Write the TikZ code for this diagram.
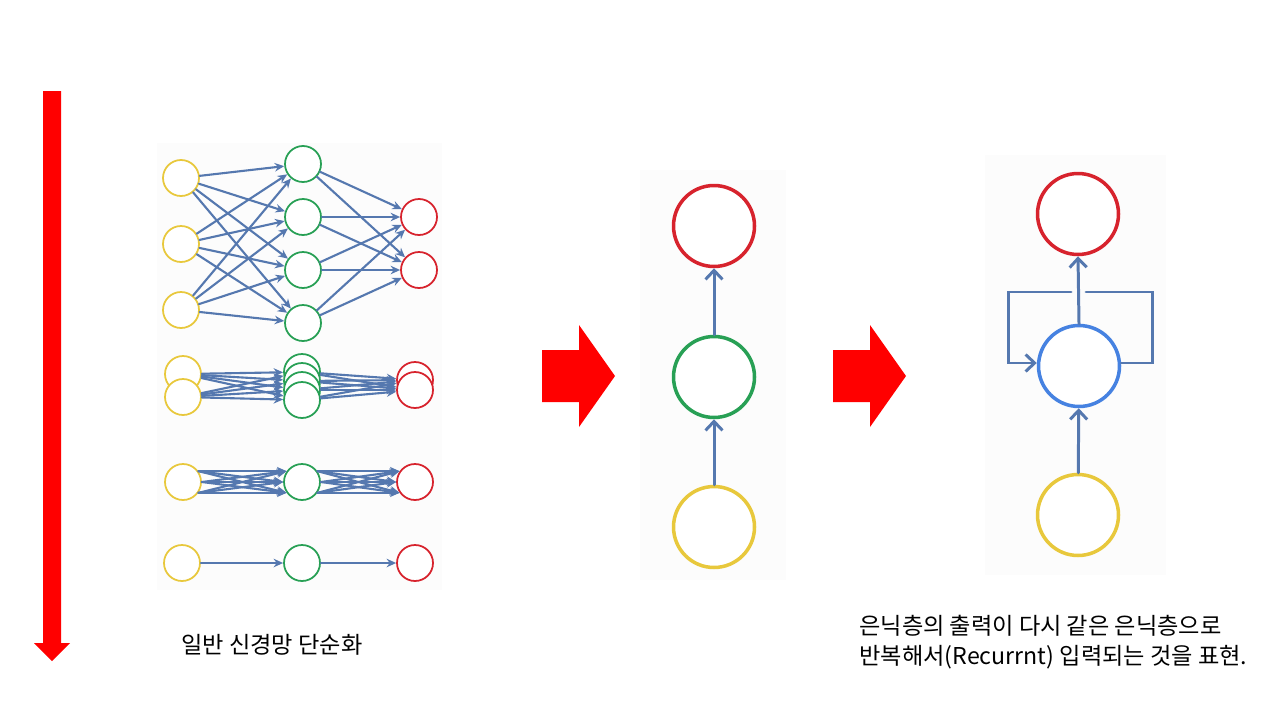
\documentclass[tikz,border=0pt]{standalone}
\usepackage{fontspec}
\setmainfont{Noto Sans CJK KR}
\usepackage{tikz}
\usetikzlibrary{arrows.meta}

\definecolor{nnyellow}{RGB}{232,200,60}
\definecolor{nngreen}{RGB}{40,160,85}
\definecolor{nnred}{RGB}{215,35,45}
\definecolor{nnblue}{RGB}{70,130,225}
\definecolor{edgeblue}{RGB}{85,120,175}

\tikzset{
  unit/.style={circle, draw, fill=white, line width=1pt, minimum size=0.72cm, inner sep=0pt},
  inunit/.style={unit, draw=nnyellow},
  hidunit/.style={unit, draw=nngreen},
  outunit/.style={unit, draw=nnred},
  bigunit/.style={circle, draw, fill=white, line width=2pt, minimum size=1.62cm, inner sep=0pt},
  edge/.style={draw=edgeblue, line width=1.2pt, -{Stealth[length=1.9mm,width=1.7mm]}},
  bigedge/.style={draw=edgeblue, line width=1.7pt, -{Straight Barb[length=1.8mm,width=3.4mm]}},
  loopedge/.style={draw=edgeblue, line width=1.7pt, line join=miter},
  caption/.style={inner sep=0pt, font=\fontsize{13.2}{17}\selectfont}
}

\begin{document}
\begin{tikzpicture}[x=0.02cm, y=-0.02cm, line cap=round, line join=round]
  \useasboundingbox (0,0) rectangle (1280,720);

  % faint screenshot backgrounds
  \fill[black!1] (157,143) rectangle (442,590);
  \fill[black!1] (640,170) rectangle (786,580);
  \fill[black!1] (985,155) rectangle (1166,575);

  % long red arrow on the left
  \fill[red] (43,91) -- (61,91) -- (61,643) -- (70,643) -- (52,661) -- (34,643) -- (43,643) -- cycle;

  % full network
  \foreach \i/\y in {1/178,2/244,3/310} \node[inunit] (a\i) at (181,\y) {};
  \foreach \j/\y in {1/164,2/217,3/270,4/323} \node[hidunit] (b\j) at (303,\y) {};
  \foreach \k/\y in {1/217,2/270} \node[outunit] (c\k) at (419,\y) {};
  \foreach \i in {1,2,3} \foreach \j in {1,...,4} \draw[edge] (a\i) -- (b\j);
  \foreach \j in {1,...,4} \foreach \k in {1,2} \draw[edge] (b\j) -- (c\k);

  % squeezed network
  \foreach \i/\y in {1/374,2/397} \node[inunit] (d\i) at (183,\y) {};
  \foreach \j/\y in {1/372,2/381,3/390,4/400} \node[hidunit] (e\j) at (302,\y) {};
  \foreach \k/\y in {1/380,2/390} \node[outunit] (f\k) at (415,\y) {};
  \foreach \i in {1,2} \foreach \j in {1,...,4} \draw[edge] (d\i) -- (e\j);
  \foreach \j in {1,...,4} \foreach \k in {1,2} \draw[edge] (e\j) -- (f\k);

  % one unit per layer, many links
  \node[inunit] (g1) at (183,482) {};
  \node[hidunit] (g2) at (302,482) {};
  \node[outunit] (g3) at (415,482) {};
  \foreach \s in {35,0,-35} \foreach \t in {145,180,215} {
    \draw[edge] (g1.\s) -- (g2.\t);
    \draw[edge] (g2.\s) -- (g3.\t);
  }

  % simplest chain
  \node[inunit] (h1) at (182,563) {};
  \node[hidunit] (h2) at (302,563) {};
  \node[outunit] (h3) at (415,563) {};
  \draw[edge] (h1) -- (h2);
  \draw[edge] (h2) -- (h3);

  % block arrows
  \foreach \dx in {0,291}
    \fill[red] (542+\dx,350) -- (579+\dx,350) -- (579+\dx,325) -- (615+\dx,376)
      -- (579+\dx,427) -- (579+\dx,402) -- (542+\dx,402) -- cycle;

  % feed-forward column
  \node[bigunit, draw=nnred] (ffout) at (714,226) {};
  \node[bigunit, draw=nngreen] (ffhid) at (714,377) {};
  \node[bigunit, draw=nnyellow] (ffin) at (714,527) {};
  \draw[bigedge] (ffin) -- (ffhid);
  \draw[bigedge] (ffhid) -- (ffout);

  % recurrent column
  \node[bigunit, draw=nnred] (rnnout) at (1078,214) {};
  \node[bigunit, draw=nnblue] (rnnhid) at (1079,366) {};
  \node[bigunit, draw=nnyellow] (rnnin) at (1078,515) {};
  \draw[bigedge] (rnnin) -- (rnnhid);
  \draw[bigedge] (rnnhid.north) -- (rnnout.south);
  \coordinate (gapR) at (1086,292);
  \coordinate (gapL) at (1071,292);
  \draw[loopedge] (rnnhid.east |- 0,363) -- (1152,363) -- (1152,292) -- (gapR);
  \draw[loopedge, -{Straight Barb[length=1.8mm,width=3.4mm]}] (gapL) -- (1008,292) -- (1008,363) -- (rnnhid.west |- 0,363);

  % captions
  \node[caption, anchor=west] (leftcap) at (181,645) {일반 신경망 단순화};
  \node[caption, anchor=north west, align=left] (rightcap) at (859,615)
    {은닉층의 출력이 다시 같은 은닉층으로\\반복해서(Recurrnt) 입력되는 것을 표현.};
\end{tikzpicture}
\end{document}
